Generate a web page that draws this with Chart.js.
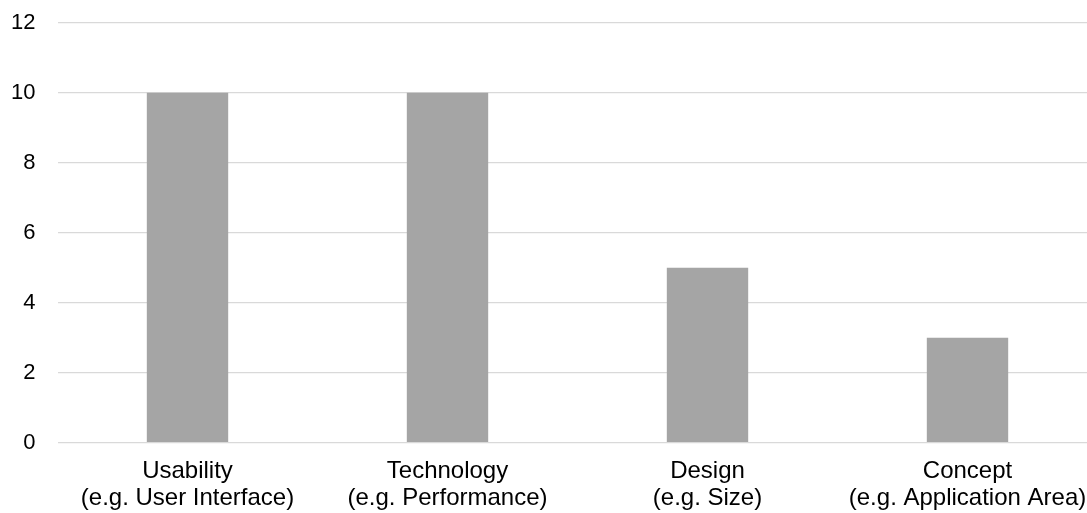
<!DOCTYPE html>
<html>
<head>
<meta charset="utf-8">
<script src="https://cdn.jsdelivr.net/npm/chart.js@4/dist/chart.umd.min.js"></script>
<style>
  body { margin: 0; overflow: hidden; background: #fff; }
  #myChart { display: block; }
</style>
</head>
<body>
<canvas id="myChart" width="1100" height="513"></canvas>
<script>
let categories = [
  ['Usability', '(e.g. User Interface)'],
  ['Technology', '(e.g. Performance)'],
  ['Design', '(e.g. Size)'],
  ['Concept', '(e.g. Application Area)']
];
let counts = [10, 10, 5, 3];
let yMin = 0;
let yMax = 12;
let yStep = 2;

const ctx = document.getElementById('myChart').getContext('2d');
const myChart = new Chart(ctx, {
  type: 'bar',
  data: {
    labels: categories,
    datasets: [{
      label: 'Count',
      data: counts,
      backgroundColor: '#A5A5A5',
      borderWidth: 0,
      categoryPercentage: 1,
      barPercentage: 0.313
    }]
  },
  options: {
    responsive: false,
    animation: false,
    layout: {
      padding: { top: 22.7, right: 2.5, bottom: 0, left: 0 }
    },
    plugins: {
      legend: { display: false },
      tooltip: { enabled: false }
    },
    scales: {
      x: {
        grid: { display: false },
        border: { display: false },
        ticks: {
          color: '#000',
          padding: 7,
          maxRotation: 0,
          autoSkip: false,
          font: { family: 'Liberation Sans, Arial, sans-serif', size: 24, lineHeight: 1.125 }
        },
        afterFit: function (scale) { scale.height = 70.3; }
      },
      y: {
        min: yMin,
        max: yMax,
        grid: { color: '#D9D9D9', lineWidth: 1.3, drawTicks: false },
        border: { display: false },
        ticks: {
          stepSize: yStep,
          color: '#000',
          padding: 22,
          font: { family: 'Liberation Sans, Arial, sans-serif', size: 22 }
        },
        afterFit: function (scale) {
          // the tick padding is also added above/below the axis; drop it
          scale.width = 57.5;
          scale.paddingTop = 0;
          scale.paddingBottom = 0;
        }
      }
    }
  }
});
</script>
</body>
</html>
